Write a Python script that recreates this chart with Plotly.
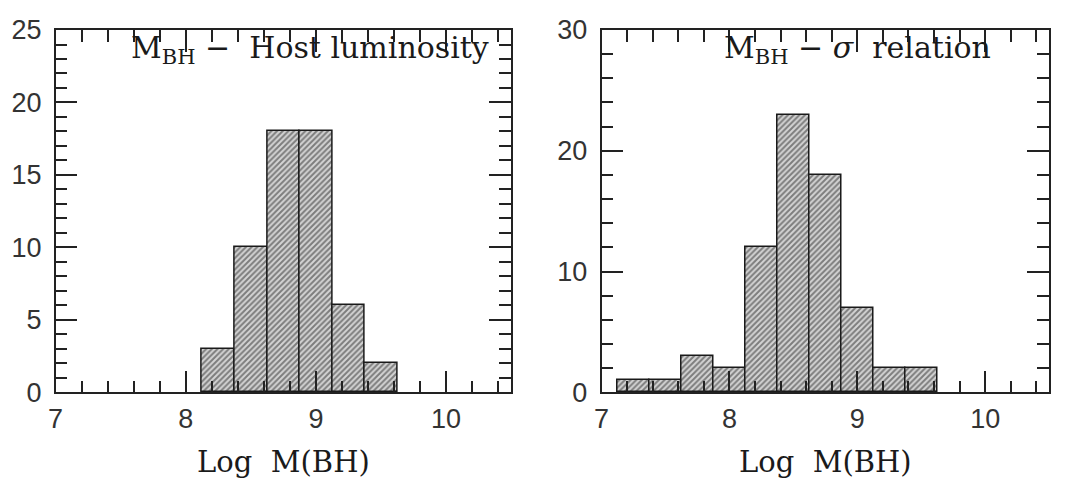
import plotly.graph_objects as go

# Left panel: M_BH - Host luminosity
left_centers = [8.25, 8.5, 8.75, 9.0, 9.25, 9.5]
left_counts = [3, 10, 18, 18, 6, 2]

# Right panel: M_BH - sigma relation
right_centers = [7.25, 7.5, 7.75, 8.0, 8.25, 8.5, 8.75, 9.0, 9.25, 9.5]
right_counts = [1, 1, 3, 2, 12, 23, 18, 7, 2, 2]

bin_width = 0.25
x_range = [7, 10.5]
x_ticks = [7, 8, 9, 10]
left_title = "M<sub>BH</sub> \u2212  Host luminosity"
right_title = "M<sub>BH</sub> \u2212 <i>\u03c3</i>\u00a0 relation"
x_title = "Log\u00a0 M(BH)"

pattern = dict(shape="/", size=4, solidity=0.5, fgcolor="#262626", bgcolor="#d4d4d4")

fig = go.Figure()
fig.add_trace(go.Bar(x=left_centers, y=left_counts, width=bin_width,
                     marker=dict(color="#d4d4d4", pattern=pattern,
                                 line=dict(color="#1a1a1a", width=1.5)),
                     xaxis="x", yaxis="y", showlegend=False))
fig.add_trace(go.Bar(x=right_centers, y=right_counts, width=bin_width,
                     marker=dict(color="#d4d4d4", pattern=pattern,
                                 line=dict(color="#1a1a1a", width=1.5)),
                     xaxis="x2", yaxis="y2", showlegend=False))

tickfont = dict(family="Liberation Sans", size=27, color="#333333")
titlefont = dict(family="DejaVu Serif", size=29, color="#1a1a1a")
annfont = dict(family="DejaVu Serif", size=30, color="#1a1a1a")

def xaxis(domain, anchor):
    return dict(domain=domain, anchor=anchor, range=x_range,
                tickmode="array", tickvals=x_ticks, ticks="inside", ticklen=22,
                tickwidth=1.5, tickcolor="#222", showline=True, linecolor="#222",
                linewidth=1.5, mirror="ticks", showgrid=False, zeroline=False,
                tickfont=tickfont, ticklabelstandoff=2, layer="above traces",
                minor=dict(dtick=0.2, tick0=7, ticks="inside", ticklen=12,
                           tickwidth=1.5, tickcolor="#222", showgrid=False),
                title=dict(text=x_title, font=titlefont, standoff=18))

def yaxis(domain, anchor, rng, dtick, mdtick):
    return dict(domain=domain, anchor=anchor, range=rng, dtick=dtick, tick0=0,
                ticks="inside", ticklen=22, tickwidth=1.5, tickcolor="#222",
                showline=True, linecolor="#222", linewidth=1.5, mirror="ticks",
                showgrid=False, zeroline=False, tickfont=tickfont,
                ticklabelstandoff=7, layer="above traces",
                minor=dict(dtick=mdtick, tick0=0, ticks="inside", ticklen=12,
                           tickwidth=1.5, tickcolor="#222", showgrid=False))

ydom = [1 - 402 / 488, 1 - 16 / 488]
fig.update_layout(
    width=1067, height=488,
    margin=dict(l=0, r=0, t=0, b=0),
    paper_bgcolor="white", plot_bgcolor="white",
    bargap=0,
    xaxis=xaxis([48 / 1067, 507 / 1067], "y"),
    yaxis=yaxis(ydom, "x", [0, 25], 5, 1),
    xaxis2=xaxis([598 / 1067, 1049 / 1067], "y2"),
    yaxis2=yaxis(ydom, "x2", [0, 30], 10, 2),
    annotations=[
        dict(text=left_title, xref="x domain", yref="y domain", x=0.16, y=0.945,
             xanchor="left", yanchor="middle", showarrow=False, font=annfont),
        dict(text=right_title, xref="x2 domain", yref="y2 domain", x=0.27, y=0.945,
             xanchor="left", yanchor="middle", showarrow=False, font=annfont),
    ],
)

fig.write_html("out.html")
